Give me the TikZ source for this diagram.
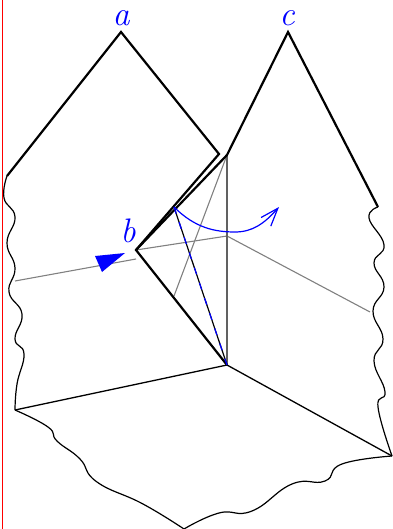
\documentclass[tikz,border=0pt]{standalone}
\usepackage{amsmath}
\usepackage{xcolor}
\usepackage{tikz}
\usetikzlibrary{arrows.meta,positioning,calc}

\begin{document}
\begin{tikzpicture}[
    x=1pt, y=-1pt,
    edge/.style={line width=2.2pt, line join=miter},
    thinedge/.style={line width=1.3pt},
    wavy/.style={line width=1.2pt, smooth, tension=0.8},
    hidden/.style={line width=1.1pt, draw=black!50},
    spine/.style={line width=1.8pt, draw=black!62},
    vertex/.style={font=\fontsize{34}{34}\selectfont\itshape, text=blue, inner sep=0pt},
]
\useasboundingbox (0,0) rectangle (392,529);

% Corners
\coordinate (apexa) at (121,32);
\coordinate (apexc) at (288,32);
\coordinate (leftend) at (7,176);
\coordinate (rightend) at (378,207);
\coordinate (foldtip) at (219,154);
\coordinate (spinetop) at (227,155);
\coordinate (spinemid) at (227,236);
\coordinate (spinelow) at (227,365);
\coordinate (apexb) at (136,250);
\coordinate (inner) at (174,207);
\coordinate (lowleft) at (15,410);
\coordinate (lowright) at (392,456);
\coordinate (lowmid) at (184,529);
\coordinate (hiddenleft) at (15,281);
\coordinate (hiddenstop) at (136,259);
\coordinate (hiddenright) at (370,312);
\coordinate (hiddenlow) at (174,296);
\coordinate (turnlow) at (235,232);
\coordinate (turnend) at (279,207);

% Red margin
\coordinate (margintop) at (2.5,0);
\coordinate (marginlow) at (2.5,529);
\draw[red, line width=1.3pt] (margintop) -- (marginlow);

% Hidden lines
\draw[hidden] (hiddenleft) -- (hiddenstop);
\draw[hidden] (apexb) -- (spinemid) -- (hiddenright);
\draw[hidden] (spinetop) -- (hiddenlow);
\draw[spine] (spinetop) -- (spinelow);

% Thick outline
\draw[edge] (leftend) -- (apexa) -- (foldtip) -- (apexb) -- (spinelow);
\draw[edge] (apexb) -- (spinetop) -- (apexc) -- (rightend);

% Floor
\draw[thinedge] (lowleft) -- (spinelow) -- (lowright);

% Wavy borders
\draw[wavy] plot coordinates {(leftend) (4,198) (15,217) (7,243) (15,268) (9,292)
    (22,314) (15,339) (24,354) (17,384) (lowleft)};
\draw[wavy] plot coordinates {(rightend) (369,218) (384,245) (374,263) (384,287)
    (373,311) (383,339) (374,361) (385,392) (378,407) (lowright)};
\draw[wavy] plot coordinates {(lowleft) (48,427) (57,441) (80,459) (97,482)
    (143,504) (lowmid)};
\draw[wavy] plot coordinates {(lowmid) (219,513) (252,511) (292,484) (325,481)
    (342,464) (lowright)};

% Blue turn
\draw[line width=1.2pt] (inner) -- (spinelow);
\draw[line width=1.2pt, blue, dash pattern=on 7pt off 9pt] (inner) -- (spinelow);
\draw[blue, line width=1.2pt, -{Straight Barb[length=18pt, width=13pt]}]
    (inner) .. controls (195,228) and (215,232) .. (turnlow)
    .. controls (252,232) and (264,224) .. (turnend);
\coordinate (flagtip) at (125,253);
\coordinate (flagtop) at (95,256);
\coordinate (flaglow) at (102,272);
\fill[blue] (flagtip) -- (flagtop) -- (flaglow) -- cycle;

% Labels
\node[vertex] (labela) at (121,18) {a};
\node[vertex] (labelb) at (128,231) {b};
\node[vertex] (labelc) at (287,18) {c};
\end{tikzpicture}
\end{document}
